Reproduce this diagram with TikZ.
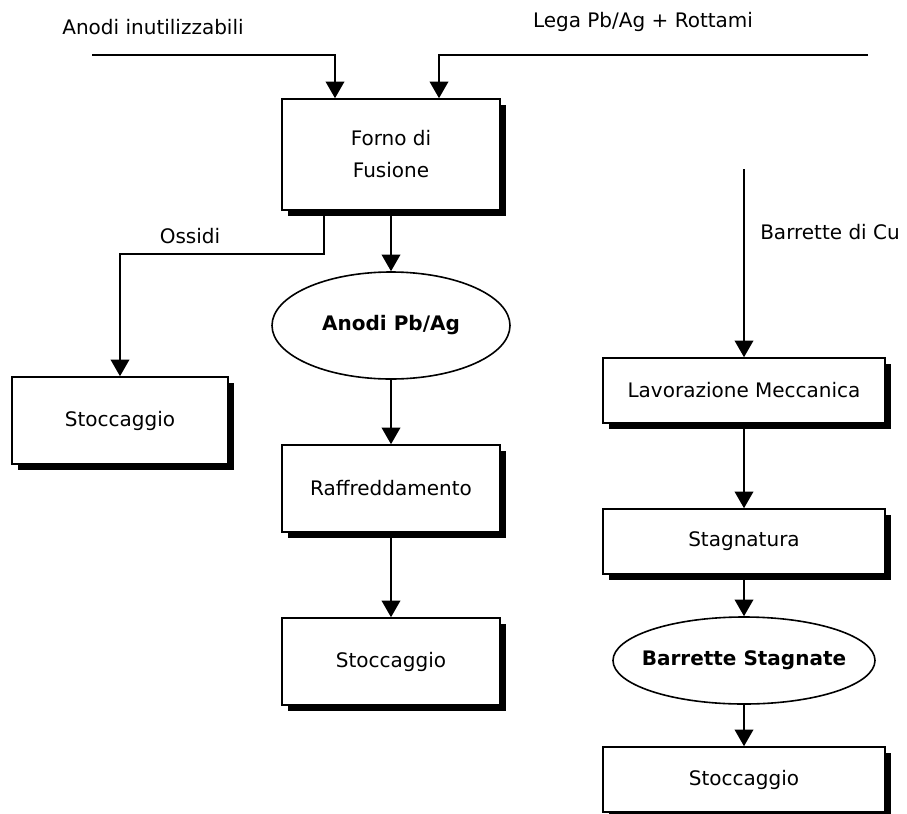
\documentclass[tikz,border=0pt]{standalone}
\usepackage{fontspec}
\setmainfont{DejaVu Sans}
\usetikzlibrary{arrows.meta,shapes.geometric,shadows,positioning}
\begin{document}
\begin{tikzpicture}[x=0.75pt,y=-0.75pt,
  font=\fontsize{15pt}{19pt}\selectfont,
  procbox/.style={draw, line width=1.2pt, fill=white, rectangle, align=center,
    drop shadow={shadow xshift=4.5pt, shadow yshift=-4.5pt, fill=black, opacity=1}},
  prodell/.style={draw, line width=1.2pt, fill=white, ellipse, inner sep=0pt,
    font=\fontsize{15pt}{19pt}\selectfont\bfseries},
  arr/.style={line width=1.3pt, -{Triangle[width=14pt,length=12.5pt]}},
  lbl/.style={inner sep=0pt}
]
\useasboundingbox (0,0) rectangle (907,814);

% nodes
\node[procbox, minimum width=163.5pt, minimum height=83.25pt] (forno) at (391,154.5) {Forno di\\[5pt]Fusione};
\node[procbox, minimum width=162pt, minimum height=65.25pt] (stoc1) at (120,420.5) {Stoccaggio};
\node[prodell, minimum width=178.5pt, minimum height=80.25pt] (anodi) at (391,325.5) {Anodi Pb/Ag};
\node[procbox, minimum width=163.5pt, minimum height=65.25pt] (raff) at (391,488.5) {Raffreddamento};
\node[procbox, minimum width=163.5pt, minimum height=65.25pt] (stoc2) at (391,661.5) {Stoccaggio};

\node[procbox, minimum width=211.5pt, minimum height=48.75pt] (lav) at (744,390.5) {Lavorazione Meccanica};
\node[procbox, minimum width=211.5pt, minimum height=48.75pt] (stag) at (744,541.5) {Stagnatura};
\node[prodell, inner xsep=-7.5pt, minimum width=196.5pt, minimum height=65.25pt] (barr) at (744,660.5) {Barrette Stagnate};
\node[procbox, minimum width=211.5pt, minimum height=48.75pt] (stoc3) at (744,779.5) {Stoccaggio};

% labels
\node[lbl] (lA) at (153,27) {Anodi inutilizzabili};
\node[lbl] (lB) at (643,22) {Lega Pb/Ag + Rottami};
\node[lbl] (lO) at (190,236) {Ossidi};
\node[lbl, anchor=west] (lC) at (760,232) {Barrette di Cu};

% free ends
\coordinate (inL) at (92,55);
\coordinate (inR) at (868,55);
\coordinate (cuTop) at (744,169);

% connectors
\draw[arr] (inL) -| ([xshift=-42pt]forno.north);
\draw[arr] (inR) -| ([xshift=36pt]forno.north);
\draw[arr] ([xshift=-50.25pt]forno.south) -- ++(0,43) -| (stoc1.north);
\draw[arr] (forno.south) -- (anodi.north);
\draw[arr] (anodi.south) -- (raff.north);
\draw[arr] (raff.south) -- (stoc2.north);
\draw[arr] (cuTop) -- (lav.north);
\draw[arr] (lav.south) -- (stag.north);
\draw[arr] (stag.south) -- (barr.north);
\draw[arr] (barr.south) -- (stoc3.north);
\end{tikzpicture}
\end{document}
